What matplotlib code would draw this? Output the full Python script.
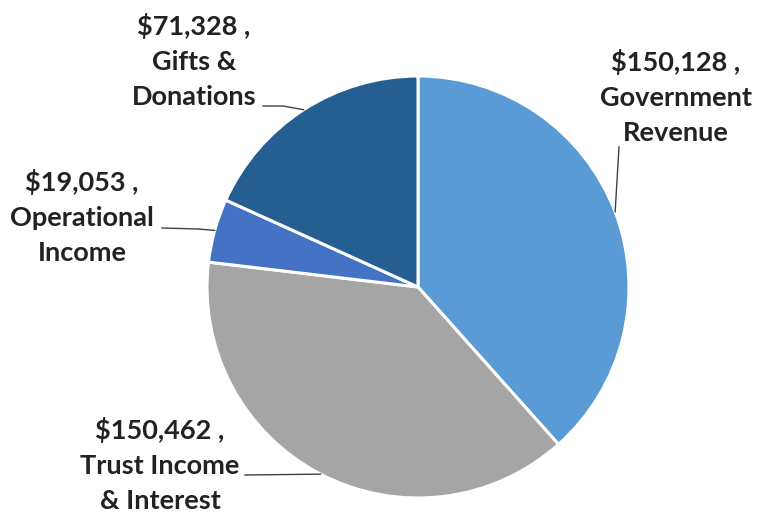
import numpy as np
import matplotlib
matplotlib.use('Agg')
import matplotlib.pyplot as plt

# data (clockwise from 12 o'clock)
labels = ['Government\nRevenue', 'Trust Income\n& Interest', 'Operational\nIncome', 'Gifts &\nDonations']
values = [150128, 150462, 19053, 71328]
colors = ['#5B9BD5', '#A5A5A5', '#4472C4', '#255E91']

W, H = 759, 521
CX, CY, R = 418, H - 287, 211

# label block centres (pixel coords, y from top) and leader elbows
text_pos = [(676, 97), (160, 465), (82, 217), (194, 61)]
leaders = [[(619, 147)], [(245, 475)], [(162, 228), (198, 229)], [(263, 106), (283, 106)]]

fig = plt.figure(figsize=(W / 100, H / 100), dpi=100)
ax = fig.add_axes([0, 0, 1, 1])

wedges, _ = ax.pie(values, colors=colors, startangle=90, counterclock=False,
                   center=(CX, CY), radius=R, frame=True,
                   wedgeprops=dict(edgecolor='white', linewidth=2.2))
ax.set_xlim(0, W); ax.set_ylim(0, H)
ax.set_aspect('equal'); ax.axis('off')

for w, lab, v, (tx, ty), pts in zip(wedges, labels, values, text_pos, leaders):
    mid = np.deg2rad((w.theta1 + w.theta2) / 2)
    px, py = CX + R * np.cos(mid), CY + R * np.sin(mid)
    xs = [p[0] for p in pts] + [px]
    ys = [H - p[1] for p in pts] + [py]
    ax.plot(xs, ys, color='#404040', lw=1.0, zorder=5)
    ax.text(tx, H - ty, f'${v:,} ,\n{lab}', ha='center', va='center',
            fontsize=19.5, fontweight='bold', family='Lato', color='#222222',
            linespacing=1.55)

fig.savefig('out.png', dpi=100)
